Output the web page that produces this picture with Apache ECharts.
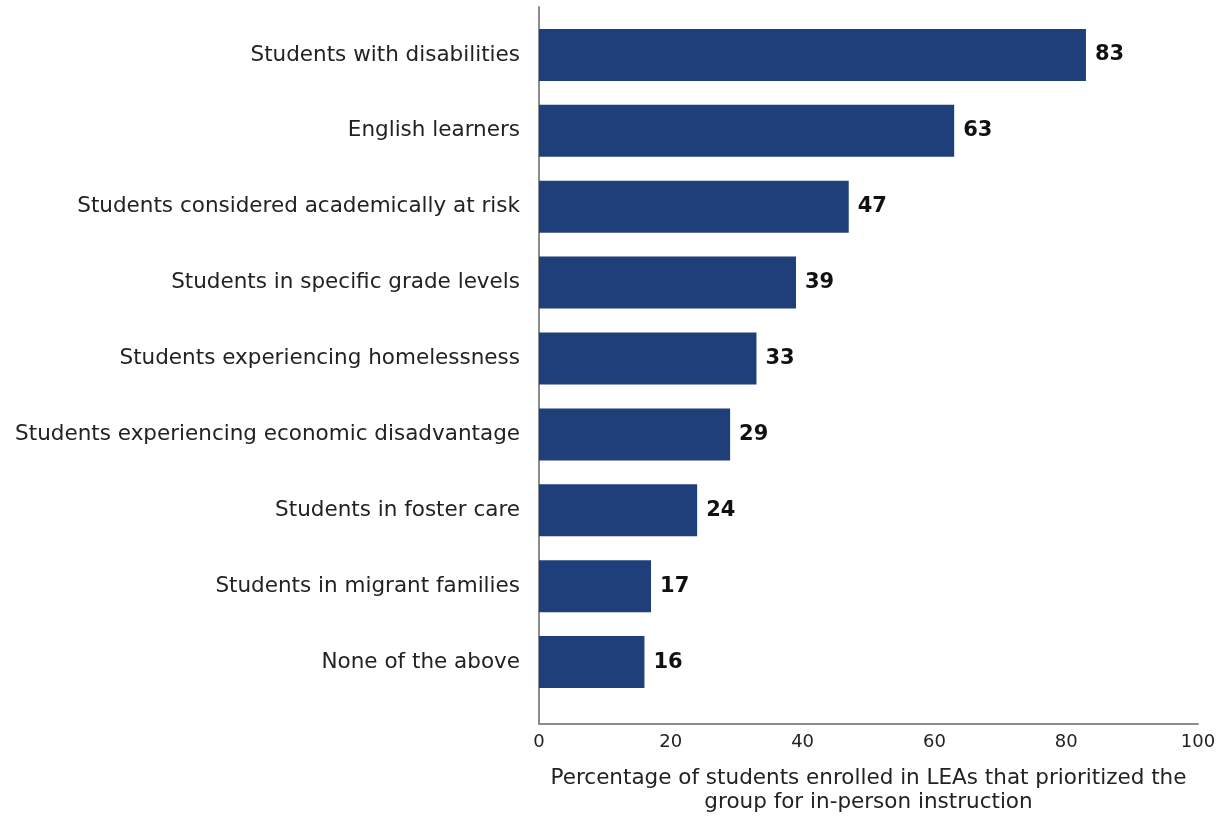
<!DOCTYPE html>
<html>
<head>
<meta charset="utf-8">
<script src="https://cdn.jsdelivr.net/npm/echarts@6/dist/echarts.min.js"></script>
<style>html,body{margin:0;padding:0;background:#fff}#c{width:1224px;height:816px}</style>
</head>
<body>
<div id="c"></div>
<script>
var categories = [
  "Students with disabilities",
  "English learners",
  "Students considered academically at risk",
  "Students in specific grade levels",
  "Students experiencing homelessness",
  "Students experiencing economic disadvantage",
  "Students in foster care",
  "Students in migrant families",
  "None of the above"
];
var values = [83, 63, 47, 39, 33, 29, 24, 17, 16];
var xTickMin = 0, xTickMax = 100, xTickStep = 20;
var xAxisTitle = "Percentage of students enrolled in LEAs that prioritized the\ngroup for in-person instruction";

var FONT = "DejaVu Sans";
var chart = echarts.init(document.getElementById('c'), null, {renderer: 'canvas'});
chart.setOption({
  animation: false,
  backgroundColor: '#ffffff',
  grid: [
    {left: 539, right: 26, top: 17, bottom: 116, outerBoundsMode: 'none', containLabel: false},
    {left: 539, right: 26, top: 7, bottom: 92, outerBoundsMode: 'none', containLabel: false}
  ],
  xAxis: [
    {gridIndex: 0, type: 'value', min: xTickMin, max: xTickMax, show: false},
    {gridIndex: 1, type: 'value', min: xTickMin, max: xTickMax, interval: xTickStep,
      axisLine: {show: true, lineStyle: {color: '#8c8c8c', width: 2}},
      axisTick: {show: false}, splitLine: {show: false},
      axisLabel: {color: '#222', fontFamily: FONT, fontSize: 18, margin: 9},
      name: xAxisTitle, nameLocation: 'middle', nameGap: 42,
      nameTextStyle: {color: '#222', fontFamily: FONT, fontSize: 21.5, lineHeight: 24, align: 'center', verticalAlign: 'top'}
    }
  ],
  yAxis: [
    {gridIndex: 0, type: 'category', data: categories, inverse: true,
      axisLine: {show: false}, axisTick: {show: false},
      axisLabel: {color: '#222', fontFamily: FONT, fontSize: 21.5, margin: 19}
    },
    {gridIndex: 1, type: 'value', min: 0, max: 1,
      axisLine: {show: true, lineStyle: {color: '#8c8c8c', width: 2}},
      axisTick: {show: false}, axisLabel: {show: false}, splitLine: {show: false}
    }
  ],
  series: [{
    type: 'bar', xAxisIndex: 0, yAxisIndex: 0, data: values, barWidth: 52,
    itemStyle: {color: '#1f3f7b'},
    label: {show: true, position: 'right', distance: 9, color: '#111',
      fontFamily: FONT, fontSize: 21, fontWeight: 'bold'}
  }]
});
</script>
</body>
</html>
